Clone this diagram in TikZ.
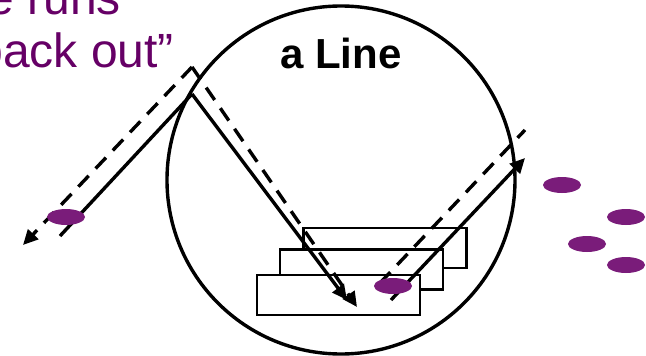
\documentclass[tikz,border=0pt]{standalone}
\usepackage{fontspec}
\setmainfont{Liberation Sans}
\usetikzlibrary{arrows.meta,shapes.geometric}
\definecolor{txtpurple}{RGB}{102,0,102}
\definecolor{dotpurple}{RGB}{122,28,122}
\begin{document}
\begin{tikzpicture}[x=1pt,y=-1pt,
  ray/.style={line width=3.4pt},
  dray/.style={line width=3.4pt, dash pattern=on 15pt off 10pt},
  tip/.style={-{Triangle[length=15pt,width=14pt]}},
  plate/.style={draw, fill=white, line width=2.8pt, minimum width=163pt, minimum height=40pt, inner sep=0pt, outer sep=0pt},
  blob/.style={ellipse, fill=dotpurple, minimum width=38pt, minimum height=16pt, inner sep=0pt},
  purpletext/.style={text=txtpurple, font=\fontsize{48}{55}\selectfont, inner sep=0pt, anchor=base east}]
\useasboundingbox (0,0) rectangle (646,356);
\clip (0,0) rectangle (646,356);
% lens circle
\node[circle, draw, line width=3.4pt, minimum size=348pt, inner sep=0pt] (lens) at (341,180) {};
% plates
\node[plate] (back) at (385,248) {};
\node[plate] (middle) at (361.5,269.5) {};
\node[plate] (front) at (338.5,295) {};
% ray coordinates
\coordinate (sIn) at (60,236);
\coordinate (sPk) at (192,94);
\coordinate (sEnd) at (347,300);
\coordinate (dOut) at (23,245);
\coordinate (dPk) at (192,67);
\coordinate (dEnd) at (357,307);
\coordinate (sR0) at (391,300);
\coordinate (sR1) at (525,158);
\coordinate (dR0) at (380,283);
\coordinate (dR1) at (525,130);
% rays
\draw[ray] (sIn) -- (sPk);
\draw[ray,tip] (sPk) -- (sEnd);
\draw[dray,tip] (dPk) -- (dOut);
\draw[dray,tip] (dPk) -- (dEnd);
\draw[ray,tip] (sR0) -- (sR1);
\draw[dray] (dR0) -- (dR1);
% particles
\node[blob] (e1) at (66,217) {};
\node[blob] (e2) at (393,286) {};
\node[blob] (e3) at (562,185) {};
\node[blob] (e4) at (626,217) {};
\node[blob] (e5) at (587,244) {};
\node[blob] (e6) at (626,265) {};
% texts
\node[font=\bfseries\fontsize{42}{48}\selectfont, inner sep=0pt, anchor=base] (title) at (341,68) {a Line};
\node[purpletext] (l1) at (121,15) {e runs};
\node[purpletext] (l2) at (174,67) {back out”};
\end{tikzpicture}
\end{document}
